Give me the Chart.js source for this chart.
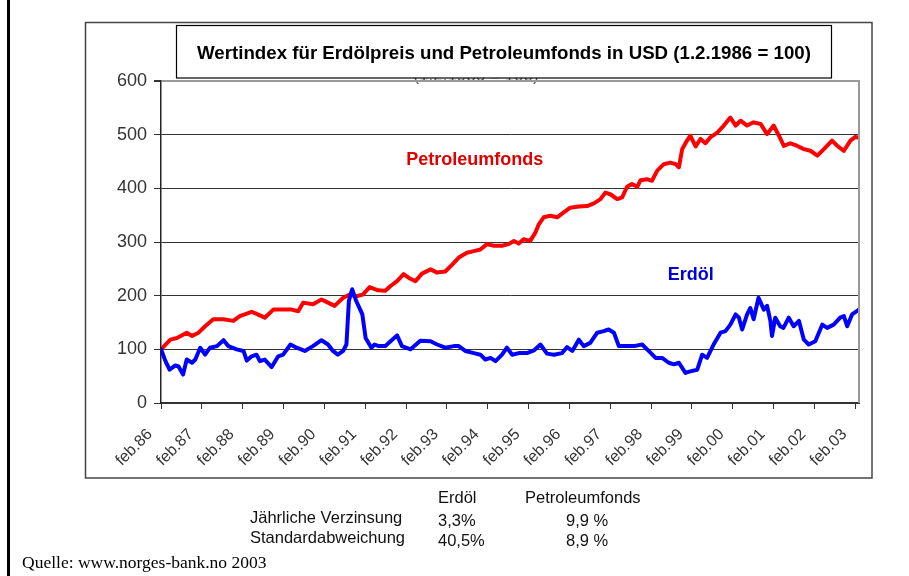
<!DOCTYPE html>
<html>
<head>
<meta charset="utf-8">
<script src="https://cdn.jsdelivr.net/npm/chart.js@4.4.0/dist/chart.umd.min.js"></script>
<style>
  html, body { margin: 0; padding: 0; background: #fff; }
  #wrap { width: 909px; height: 576px; position: relative; }
</style>
</head>
<body>
<div id="wrap"><canvas id="c" width="909" height="576"></canvas></div>
<script>
// ---- data (years since Feb 1986, index 1.2.1986 = 100) ----
const tickLabels = ['feb.86','feb.87','feb.88','feb.89','feb.90','feb.91','feb.92','feb.93','feb.94',
  'feb.95','feb.96','feb.97','feb.98','feb.99','feb.00','feb.01','feb.02','feb.03'];
const yTicks = [0, 100, 200, 300, 400, 500, 600];

const fondsT = [0,0.23,0.39,0.63,0.76,0.92,1.08,1.28,1.53,1.77,1.93,2.22,2.34,2.54,2.75,2.99,3.2,3.36,3.48,3.72,
  3.93,4.09,4.25,4.46,4.62,4.78,4.94,5.11,5.31,5.49,5.62,5.78,5.94,6.07,6.23,6.39,6.6,6.76,6.96,7.13,
  7.29,7.49,7.66,7.82,7.98,8.15,8.35,8.51,8.64,8.76,8.88,9.04,9.17,9.25,9.37,9.53,9.7,9.86,10.02,10.23,
  10.43,10.6,10.76,10.88,11.0,11.17,11.29,11.41,11.53,11.66,11.74,11.9,12.02,12.15,12.31,12.47,12.6,12.68,12.76,12.88,
  12.96,13.09,13.21,13.33,13.45,13.62,13.78,13.94,14.07,14.19,14.35,14.51,14.68,14.84,15.0,15.13,15.25,15.41,15.58,15.74,
  15.9,16.07,16.23,16.43,16.56,16.72,16.88,17.0,17.09];
const fondsValues = [100,118,121,131,125,131,143,156,156,153,162,170,166,159,174,174,174,171,187,184,
  193,187,181,196,202,199,202,216,210,209,218,227,240,233,227,241,249,243,245,258,
  271,280,283,286,296,293,293,296,302,297,305,302,318,333,346,349,346,355,364,366,
  367,372,380,392,389,380,383,403,408,403,415,417,414,433,445,448,445,439,473,489,
  498,478,492,484,495,504,517,532,517,526,517,523,520,501,517,498,479,484,479,473,
  470,461,473,489,479,470,489,496,494];

const oelT = [0,0.11,0.21,0.35,0.43,0.54,0.63,0.76,0.84,0.96,1.08,1.2,1.37,1.53,1.65,1.85,2.02,2.1,2.22,2.34,
  2.42,2.54,2.71,2.87,2.99,3.17,3.32,3.52,3.72,3.93,4.09,4.21,4.33,4.46,4.54,4.6,4.68,4.78,4.93,5.01,
  5.15,5.23,5.33,5.49,5.62,5.78,5.9,6.11,6.35,6.6,6.76,6.96,7.17,7.29,7.45,7.66,7.82,7.94,8.07,8.19,
  8.35,8.47,8.6,8.76,8.96,9.13,9.29,9.45,9.62,9.82,9.94,10.07,10.23,10.35,10.51,10.68,10.84,10.96,11.09,11.21,
  11.41,11.58,11.78,11.94,12.11,12.27,12.43,12.56,12.68,12.84,12.96,13.13,13.25,13.37,13.53,13.7,13.82,13.94,14.07,14.15,
  14.23,14.35,14.43,14.51,14.63,14.76,14.84,14.92,14.96,15.04,15.16,15.24,15.37,15.49,15.62,15.74,15.86,16.02,16.19,16.31,
  16.47,16.63,16.72,16.8,16.92,17.09];
const oelValues = [100,78,62,70,68,53,81,75,81,103,90,103,106,117,106,100,97,79,87,90,
  78,81,67,87,90,109,103,97,106,117,109,97,90,97,109,190,212,190,165,121,
  103,109,106,106,115,126,106,100,116,115,109,103,106,106,97,93,90,81,84,78,
  90,103,90,93,93,98,109,92,90,93,104,97,118,106,112,131,134,137,131,106,
  106,106,109,97,84,84,75,72,75,56,59,62,90,84,109,131,134,146,165,159,
  137,165,177,156,196,174,181,153,125,159,143,140,159,143,153,118,109,115,146,140,
  146,159,162,143,165,174];

const titleText = 'Wertindex für Erdölpreis und Petroleumfonds in USD (1.2.1986 = 100)';
const hiddenSub = '(1.2.1986 = 100)';
const statCols = ['Erdöl', 'Petroleumfonds'];
const statRows = ['Jährliche Verzinsung', 'Standardabweichung'];
const statOel = ['3,3%', '40,5%'];
const statFonds = ['9,9 %', '8,9 %'];
const sourceText = 'Quelle: www.norges-bank.no 2003';

const SANS = '"Liberation Sans", Arial, Helvetica, sans-serif';
const SERIF = '"Liberation Serif", "Times New Roman", serif';

const toXY = (ts, vs) => ts.map((t, i) => ({ x: t, y: vs[i] }));

const deco = {
  id: 'deco',
  beforeDraw(chart) {
    const c = chart.ctx;
    c.save();
    c.fillStyle = '#fff';
    c.fillRect(0, 0, chart.width, chart.height);
    // left rule
    c.fillStyle = '#000';
    c.fillRect(7, 0, 3, chart.height);
    // outer frame
    c.strokeStyle = '#444';
    c.lineWidth = 1.5;
    c.strokeRect(85.5, 22.5, 786.5, 455.5);
    // partly hidden subtitle behind title box
    c.fillStyle = '#555';
    c.font = '17px ' + SANS;
    c.textAlign = 'center';
    c.textBaseline = 'alphabetic';
    c.fillText(hiddenSub, 476, 81);
    c.restore();
  },
  afterDraw(chart) {
    const c = chart.ctx;
    const xs = chart.scales.x, ys = chart.scales.y;
    const a = chart.chartArea;
    c.save();
    // right plot border
    c.strokeStyle = '#999';
    c.lineWidth = 2;
    c.beginPath();
    c.moveTo(a.right, a.top - 1);
    c.lineTo(a.right, a.bottom);
    c.stroke();
    // title box
    c.fillStyle = '#fff';
    c.fillRect(176, 25, 656, 53);
    c.strokeStyle = '#000';
    c.lineWidth = 1.2;
    c.strokeRect(176.5, 25.5, 655, 52.5);
    c.fillStyle = '#000';
    c.font = 'bold 18.7px ' + SANS;
    c.textAlign = 'center';
    c.textBaseline = 'alphabetic';
    c.fillText(titleText, 504, 58.5);
    // series labels
    c.font = 'bold 18px ' + SANS;
    c.textBaseline = 'middle';
    c.fillStyle = '#e00000';
    c.fillText('Petroleumfonds', xs.getPixelForValue(7.68), ys.getPixelForValue(452));
    c.fillStyle = '#0000dd';
    c.fillText('Erdöl', xs.getPixelForValue(12.97), ys.getPixelForValue(238));
    // stats table
    c.fillStyle = '#111';
    c.font = '16.5px ' + SANS;
    c.textAlign = 'left';
    c.textBaseline = 'middle';
    c.fillText(statCols[0], 438, 498);
    c.fillText(statCols[1], 525, 498);
    c.fillText(statRows[0], 250, 518);
    c.fillText(statRows[1], 250, 538);
    c.fillText(statOel[0], 438, 521);
    c.fillText(statOel[1], 438, 541);
    c.fillText(statFonds[0], 566, 521);
    c.fillText(statFonds[1], 566, 541);
    // source
    c.font = '17.5px ' + SERIF;
    c.fillStyle = '#000';
    c.fillText(sourceText, 22, 563);
    c.restore();
  }
};

new Chart(document.getElementById('c'), {
  type: 'line',
  data: {
    datasets: [
      { label: 'Erdöl', data: toXY(oelT, oelValues), borderColor: '#0000ff', borderWidth: 4,
        pointRadius: 0, tension: 0, borderJoinStyle: 'round', borderCapStyle: 'round' },
      { label: 'Petroleumfonds', data: toXY(fondsT, fondsValues), borderColor: '#ff0000', borderWidth: 4,
        pointRadius: 0, tension: 0, borderJoinStyle: 'round', borderCapStyle: 'round' }
    ]
  },
  options: {
    responsive: false,
    animation: false,
    devicePixelRatio: 1,
    layout: { padding: { left: 0, top: 81, right: 50, bottom: 0 } },
    plugins: { legend: { display: false }, title: { display: false }, tooltip: { enabled: false } },
    scales: {
      x: {
        type: 'linear',
        min: 0,
        max: 17.09,
        afterBuildTicks: ax => { ax.ticks = tickLabels.map((_, i) => ({ value: i })); },
        afterFit: ax => { ax.height = 173; },
        ticks: {
          autoSkip: false,
          minRotation: 45,
          maxRotation: 45,
          padding: 16,
          labelOffset: -11,
          color: '#333',
          font: { family: SANS, size: 16 },
          callback: v => tickLabels[v]
        },
        grid: { drawOnChartArea: false, drawTicks: true, tickLength: 6, color: '#333', lineWidth: 1 },
        border: { display: true, color: '#333', width: 2 }
      },
      y: {
        min: 0,
        max: 600,
        afterBuildTicks: ax => { ax.ticks = yTicks.map(v => ({ value: v })); },
        afterFit: ax => { ax.width = 161; },
        ticks: { padding: 7, color: '#333', font: { family: SANS, size: 18 } },
        grid: {
          drawTicks: true, tickLength: 7,
          color: ctx => (ctx.tick && ctx.tick.value === 600 ? '#999' : '#333'),
          lineWidth: ctx => (ctx.tick && ctx.tick.value === 600 ? 2 : 1),
          tickColor: '#333'
        },
        border: { display: true, color: '#222', width: 1.5 }
      }
    }
  },
  plugins: [deco]
});
</script>
</body>
</html>
